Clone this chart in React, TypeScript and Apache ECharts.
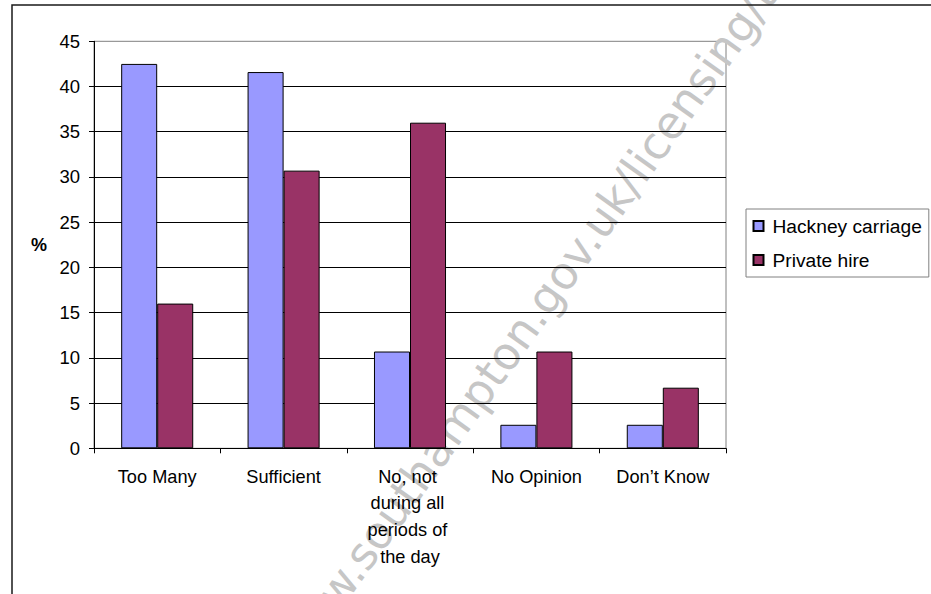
import React, { useEffect, useRef } from "react";
import * as echarts from "echarts";

// Survey answers on taxi supply, per licence type (%)
const categories = [
  "Too Many",
  "Sufficient",
  "No, not during all periods of the day",
  "No Opinion",
  "Don\u2019t Know",
];
const hackneyCarriage = [42.5, 41.6, 10.7, 2.6, 2.6];
const privateHire = [16.0, 30.7, 36.0, 10.7, 6.7];
const seriesNames = ["Hackney carriage", "Private hire"];
const yMin = 0;
const yMax = 45;
const yStep = 5;
const yAxisTitle = "%";
const watermarkHead = "www.southampton.";
const watermarkTail = "gov.uk/licensing/t";

const FONT = "'Liberation Sans', Arial, sans-serif";
const MARK_FONT = "45px 'DejaVu Sans', Verdana, sans-serif";

export default function App() {
  const ref = useRef<HTMLDivElement>(null);

  useEffect(() => {
    if (!ref.current) return;
    const chart = echarts.init(ref.current, undefined, { renderer: "svg" });
    const angle = (54.5 * Math.PI) / 180;

    chart.setOption({
      animation: false,
      backgroundColor: "#ffffff",
      textStyle: { fontFamily: FONT },
      grid: {
        left: 94,
        top: 41.3,
        right: 205,
        bottom: 145.7,
        containLabel: false,
        show: true,
        backgroundColor: "#ffffff",
        borderColor: "#808080",
        borderWidth: 1,
      },
      legend: {
        orient: "vertical",
        left: 746,
        top: 209,
        padding: [7, 7, 7, 6.5],
        itemGap: 14,
        itemWidth: 10,
        itemHeight: 10,
        icon: "rect",
        borderColor: "#808080",
        borderWidth: 1,
        backgroundColor: "#ffffff",
        textStyle: {
          fontFamily: FONT,
          fontSize: 19.2,
          color: "#000",
          lineHeight: 20,
          padding: [0, 0, 0, 4],
        },
        data: seriesNames,
      },
      xAxis: {
        type: "category",
        data: categories,
        boundaryGap: true,
        axisLine: { show: true, lineStyle: { color: "#000", width: 1 } },
        axisTick: { show: true, length: 5, lineStyle: { color: "#000" } },
        axisLabel: {
          interval: 0,
          margin: 15,
          color: "#000",
          fontFamily: FONT,
          fontSize: 18.2,
          lineHeight: 26.7,
          width: 108,
          overflow: "break",
        },
        splitLine: { show: false },
      },
      yAxis: {
        type: "value",
        min: yMin,
        max: yMax,
        interval: yStep,
        name: yAxisTitle,
        nameLocation: "middle",
        nameRotate: 0,
        nameGap: 47,
        nameTextStyle: {
          fontFamily: FONT,
          fontSize: 18,
          fontWeight: "bold",
          color: "#000",
        },
        axisLine: { show: true, lineStyle: { color: "#000", width: 1 } },
        axisTick: { show: true, length: 5, lineStyle: { color: "#000" } },
        axisLabel: {
          margin: 14,
          color: "#000",
          fontFamily: FONT,
          fontSize: 18.5,
        },
        splitLine: {
          show: true,
          showMaxLine: false,
          lineStyle: { color: "#000", width: 1 },
        },
      },
      series: [
        {
          name: seriesNames[0],
          type: "bar",
          data: hackneyCarriage,
          barGap: "0%",
          barCategoryGap: "43%",
          itemStyle: { color: "#9999FF", borderColor: "#000", borderWidth: 1 },
        },
        {
          name: seriesNames[1],
          type: "bar",
          data: privateHire,
          barGap: "0%",
          barCategoryGap: "43%",
          itemStyle: { color: "#993366", borderColor: "#000", borderWidth: 1 },
        },
      ],
      graphic: [
        {
          type: "rect",
          z: 100,
          silent: true,
          shape: { x: 12, y: 5, width: 1000, height: 1000 },
          style: { fill: "none", stroke: "#1a1a1a", lineWidth: 1.5 },
        },
        {
          type: "group",
          x: 537,
          y: 309,
          rotation: angle,
          z: 100,
          silent: true,
          children: [
            {
              type: "text",
              x: 0,
              y: 0,
              style: {
                text: watermarkHead,
                fill: "#c6c6c6",
                font: MARK_FONT,
                textAlign: "right",
                textVerticalAlign: "middle",
              },
            },
            {
              type: "text",
              x: 0,
              y: 0,
              style: {
                text: watermarkTail,
                fill: "#c6c6c6",
                font: MARK_FONT,
                textAlign: "left",
                textVerticalAlign: "middle",
              },
            },
          ],
        },
      ],
    });

    return () => chart.dispose();
  }, []);

  return (
    <div
      ref={ref}
      style={{ position: "fixed", left: 0, top: 0, width: 931, height: 594 }}
    />
  );
}
